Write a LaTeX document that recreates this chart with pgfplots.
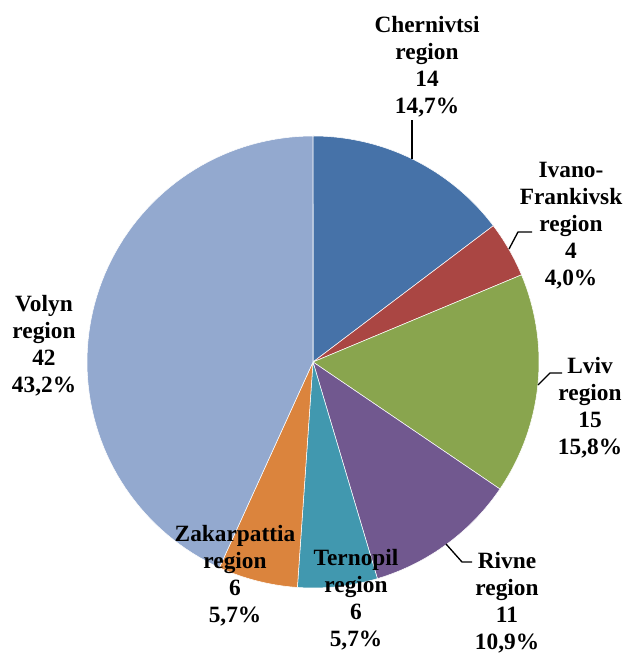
\documentclass[border=0pt]{standalone}
\usepackage{fontspec}
\setmainfont{Liberation Serif}
\usepackage{pgfplots}
\pgfplotsset{compat=1.18}
\definecolor{cChe}{HTML}{4672A8}
\definecolor{cIva}{HTML}{AA4643}
\definecolor{cLvi}{HTML}{89A54E}
\definecolor{cRiv}{HTML}{71588F}
\definecolor{cTer}{HTML}{4198AF}
\definecolor{cZak}{HTML}{DB843D}
\definecolor{cVol}{HTML}{93A9CF}
% slice: #1 = cumulative percent before slice, #2 = percent of slice, #3 = colour
\newcommand{\slice}[3]{%
  \addplot[fill=#3, draw=white, line width=0.4pt, domain={90-3.6*(#1)}:{90-3.6*(#1+#2)}, samples=80, variable=\t]
    ({313+226*cos(\t)},{293+226*sin(\t)}) -- (axis cs:313,293) -- cycle;
}
\begin{document}
\begin{tikzpicture}
\begin{axis}[
  width=470.25pt, height=491.25pt, scale only axis,
  xmin=0, xmax=627, ymin=0, ymax=655,
  hide axis, clip=false,
]
\path (axis cs:0,0) rectangle (axis cs:627,655);
% percentages: Chernivtsi 14.7, Ivano-Frankivsk 4.0, Lviv 15.8, Rivne 10.9, Ternopil 5.7, Zakarpattia 5.7, Volyn 43.2
\slice{0}{14.7}{cChe}
\slice{14.7}{4.0}{cIva}
\slice{18.7}{15.8}{cLvi}
\slice{34.5}{10.9}{cRiv}
\slice{45.4}{5.7}{cTer}
\slice{51.1}{5.7}{cZak}
\slice{56.8}{43.2}{cVol}

\draw[black, line width=1pt] (axis cs:412,496) -- (axis cs:412,535);
\draw[black, line width=1pt] (axis cs:509,406) -- (axis cs:518,423) -- (axis cs:532,423);
\draw[black, line width=1pt] (axis cs:538,270) -- (axis cs:550,282) -- (axis cs:562,282);
\draw[black, line width=1pt] (axis cs:446,111) -- (axis cs:462,93) -- (axis cs:472,93);

\tikzset{lbl/.style={font=\bfseries\fontsize{17.5}{20.25}\selectfont, align=center, inner sep=0pt, anchor=center}}
\node[lbl] at (axis cs:427,588.5) {Chernivtsi\\region\\14\\14,7\%};
\node[lbl] at (axis cs:571,429) {Ivano-\\Frankivsk\\region\\4\\4,0\%};
\node[lbl] at (axis cs:590,247) {Lviv\\region\\15\\15,8\%};
\node[lbl] at (axis cs:507,52) {Rivne\\region\\11\\10,9\%};
\node[lbl] at (axis cs:356,55) {Ternopil\\region\\6\\5,7\%};
\node[lbl] at (axis cs:235,79.5) {Zakarpattia\\region\\6\\5,7\%};
\node[lbl] at (axis cs:44,309) {Volyn\\region\\42\\43,2\%};
\end{axis}
\end{tikzpicture}
\end{document}
